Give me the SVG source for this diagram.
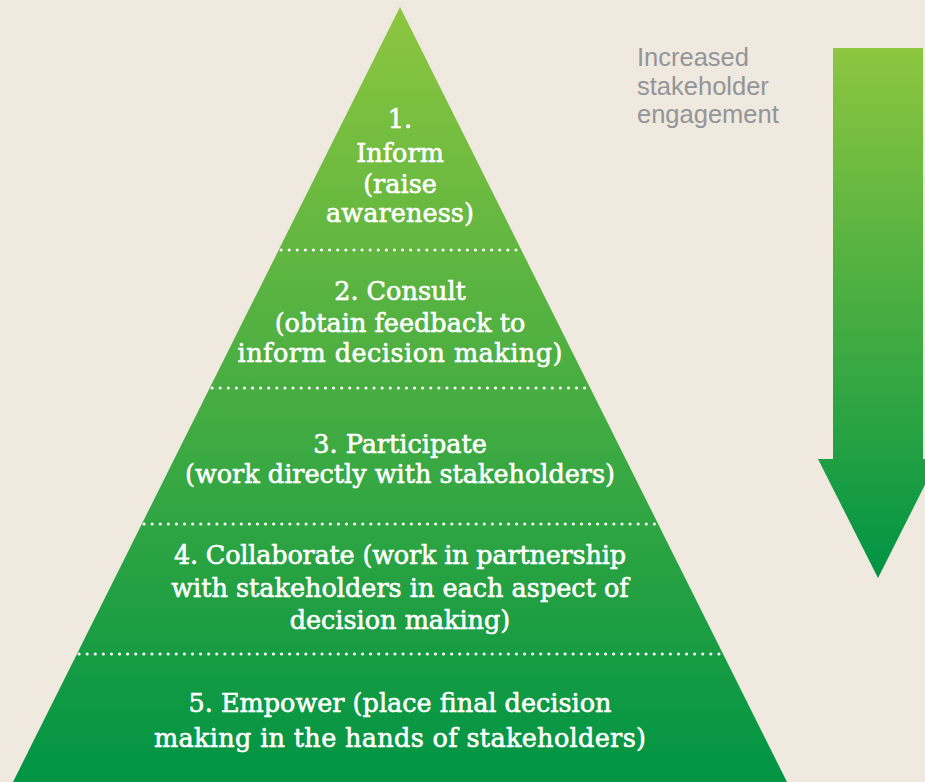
<svg xmlns="http://www.w3.org/2000/svg" width="925" height="782" viewBox="0 0 925 782">
<defs>
<linearGradient id="gp" gradientUnits="userSpaceOnUse" x1="0" y1="7" x2="0" y2="782">
<stop offset="0" stop-color="#8dc63f"/>
<stop offset="1" stop-color="#009444"/>
</linearGradient>
<linearGradient id="ga" gradientUnits="userSpaceOnUse" x1="0" y1="48" x2="0" y2="578">
<stop offset="0" stop-color="#8dc63f"/>
<stop offset="1" stop-color="#009444"/>
</linearGradient>
<style>
.t{font-family:"DejaVu Serif","Liberation Serif",serif;font-size:25.5px;fill:#ffffff;stroke:#ffffff;stroke-width:0.6;text-anchor:middle}
.g{font-family:"Liberation Sans",Arial,sans-serif;font-size:25.5px;fill:#939598}
.d{stroke:#ffffff;stroke-width:3;stroke-linecap:round;stroke-dasharray:0.1 8;fill:none}
</style>
</defs>
<rect width="925" height="782" fill="#efe9df"/>
<polygon id="pyramid" points="400,7 787,782 13,782" fill="url(#gp)"/>
<g id="dividers">
<line class="d" x1="281" y1="250" x2="519" y2="250"/>
<line class="d" x1="212" y1="388" x2="588" y2="388"/>
<line class="d" x1="144" y1="524" x2="656" y2="524"/>
<line class="d" x1="79" y1="654" x2="721" y2="654"/>
</g>
<g id="tier1">
<text class="t" x="400" y="128">1.</text>
<text class="t" x="400" y="162">Inform</text>
<text class="t" x="400" y="193">(raise</text>
<text class="t" x="400" y="222" textLength="148">awareness)</text>
</g>
<g id="tier2">
<text class="t" x="400" y="300">2. Consult</text>
<text class="t" x="400" y="332">(obtain feedback to</text>
<text class="t" x="400" y="362" textLength="325">inform decision making)</text>
</g>
<g id="tier3">
<text class="t" x="400" y="453">3. Participate</text>
<text class="t" x="400" y="483" textLength="430">(work directly with stakeholders)</text>
</g>
<g id="tier4">
<text class="t" x="400" y="564" textLength="452">4. Collaborate (work in partnership</text>
<text class="t" x="400" y="597">with stakeholders in each aspect of</text>
<text class="t" x="400" y="629">decision making)</text>
</g>
<g id="tier5">
<text class="t" x="400" y="712">5. Empower (place final decision</text>
<text class="t" x="400" y="747" textLength="492">making in the hands of stakeholders)</text>
</g>
<g id="connectors">
<polygon id="arrow" points="833,48 923,48 923,459 938,459 878,578 818,459 833,459" fill="url(#ga)"/>
</g>
<g id="label">
<text class="g" x="637" y="66">Increased</text>
<text class="g" x="637" y="95">stakeholder</text>
<text class="g" x="637" y="123">engagement</text>
</g>
</svg>
